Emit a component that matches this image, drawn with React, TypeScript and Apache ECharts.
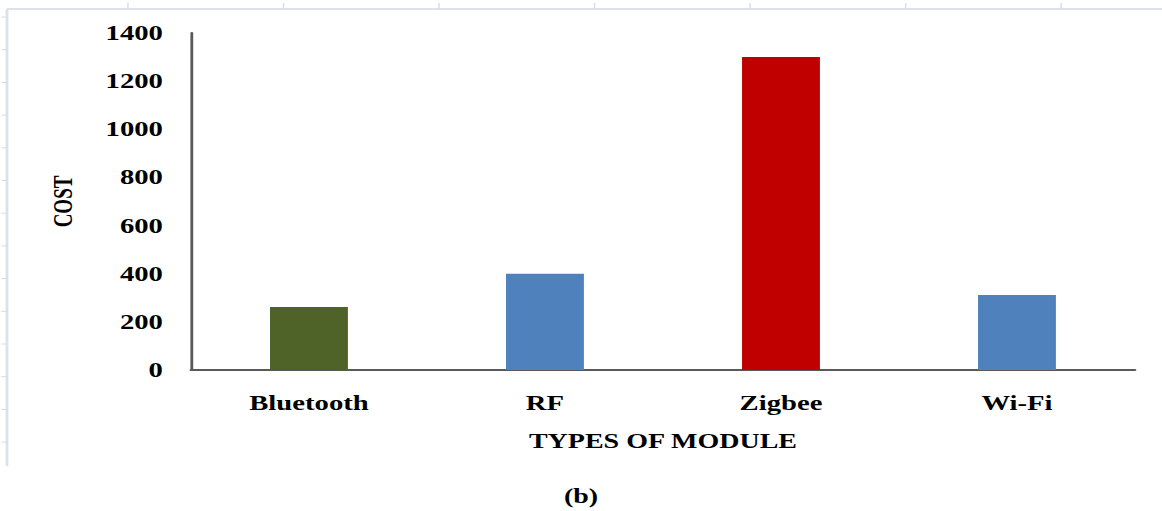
import React, { useEffect, useRef } from "react";
import * as echarts from "echarts";

const categories = ["Bluetooth", "RF", "Zigbee", "Wi-Fi"];
const costs = [262, 400, 1300, 312];
const barColors = ["#4f6228", "#4f81bd", "#c00000", "#4f81bd"];
const yTicks = [0, 200, 400, 600, 800, 1000, 1200, 1400];

const BASE_W = 830;
const STRETCH = 1162 / BASE_W;
const H = 511;
const FONT = "'Liberation Serif', 'Times New Roman', serif";

export default function App() {
  const ref = useRef<HTMLDivElement>(null);
  useEffect(() => {
    if (!ref.current) return;
    const chart = echarts.init(ref.current, undefined, { renderer: "svg" });
    const frame: any[] = [];
    frame.push({ type: "line", shape: { x1: 5, y1: 9, x2: BASE_W, y2: 9 }, style: { stroke: "#dde1ea", lineWidth: 2 } });
    frame.push({ type: "line", shape: { x1: 5, y1: 9, x2: 5, y2: 466 }, style: { stroke: "#dde1ea", lineWidth: 2 } });
    for (let i = 0; i < 7; i++) {
      const x = 91.4 + i * 111.1;
      frame.push({ type: "line", shape: { x1: x, y1: 3, x2: x, y2: 9 }, style: { stroke: "#d6dae6", lineWidth: 1 } });
    }
    for (let i = 0; i < 14; i++) {
      const y = 17 + i * 32.7;
      if (y > 462) break;
      frame.push({ type: "line", shape: { x1: 1, y1: y, x2: 5, y2: y }, style: { stroke: "#d6dae6", lineWidth: 1 } });
    }
    chart.setOption({
      animation: false,
      backgroundColor: "#ffffff",
      title: {
        text: "(b)",
        left: "center",
        top: 481,
        textStyle: { fontFamily: FONT, fontWeight: "bold", fontSize: 20, color: "#000" },
      },
      grid: { left: 136.4, right: 19.3, top: 33, bottom: 141 },
      xAxis: {
        type: "category",
        data: categories,
        axisLine: { lineStyle: { color: "#595959", width: 2 } },
        axisTick: { show: false },
        axisLabel: { fontFamily: FONT, fontWeight: "bold", fontSize: 20.5, color: "#000", margin: 23 },
        name: "TYPES OF MODULE",
        nameLocation: "middle",
        nameGap: 61,
        nameTextStyle: { fontFamily: FONT, fontWeight: "bold", fontSize: 20, color: "#000" },
      },
      yAxis: {
        type: "value",
        min: yTicks[0],
        max: yTicks[yTicks.length - 1],
        interval: 200,
        axisLine: { show: true, lineStyle: { color: "#595959", width: 2 } },
        axisTick: { show: false },
        splitLine: { show: false },
        axisLabel: {
          fontFamily: FONT,
          fontWeight: "bold",
          fontSize: 20.5,
          color: "#000",
          margin: 20,
          formatter: (v: number) => String(v),
        },
        name: "COST",
        nameLocation: "middle",
        nameGap: 82,
        nameTextStyle: { fontFamily: FONT, fontWeight: "bold", fontSize: 19, color: "#000" },
      },
      series: [
        {
          type: "bar",
          barWidth: "33%",
          data: costs.map((v, i) => ({ value: v, itemStyle: { color: barColors[i] } })),
        },
      ],
      graphic: frame,
    });
    return () => chart.dispose();
  }, []);
  return (
    <div
      ref={ref}
      style={{
        position: "fixed",
        left: 0,
        top: 0,
        width: BASE_W,
        height: H,
        transform: `scaleX(${STRETCH})`,
        transformOrigin: "0 0",
      }}
    />
  );
}
